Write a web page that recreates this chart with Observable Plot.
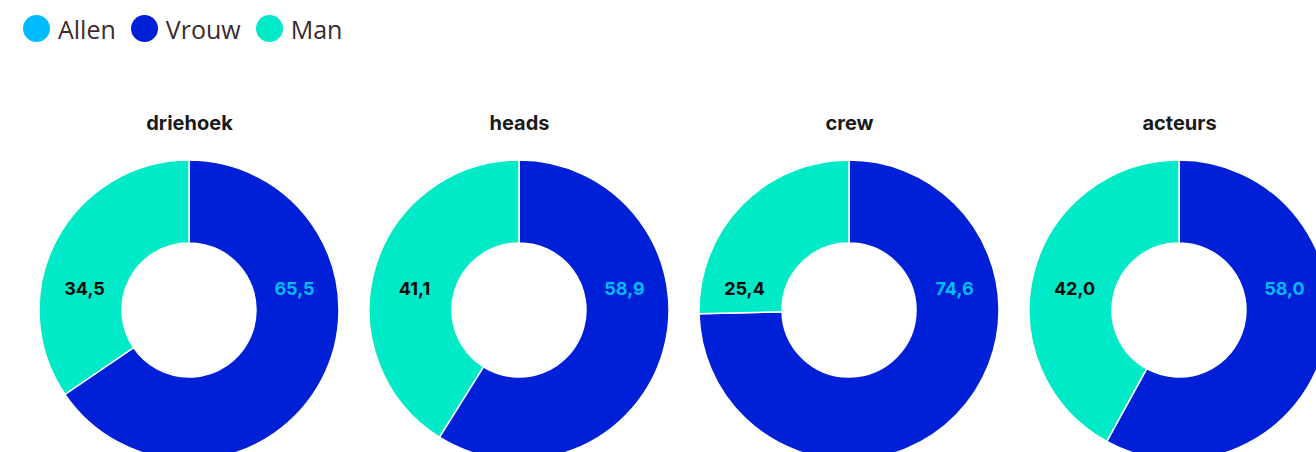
<!DOCTYPE html>
<html>
<head>
<meta charset="utf-8">
<script src="https://cdn.jsdelivr.net/npm/d3@7"></script>
<script src="https://cdn.jsdelivr.net/npm/@observablehq/plot@0.6"></script>
<style>
  html, body { margin: 0; padding: 0; background: #fff; overflow: hidden; }
  #legend { height: 57px; display: flex; align-items: center; padding-left: 23px; box-sizing: border-box; font-family: "Open Sans", sans-serif; font-size: 25px; color: #3b2a30; }
  .item { display: flex; align-items: center; margin-right: 15px; }
  .sw { width: 27px; height: 27px; border-radius: 50%; margin-right: 8px; }
  #chart svg { display: block; }
</style>
</head>
<body>
<div id="legend"></div>
<div id="chart"></div>
<script>
const categories = ["driehoek", "heads", "crew", "acteurs"];
const vrouw = [65.5, 58.9, 74.6, 58.0];
const man = [34.5, 41.1, 25.4, 42.0];
const legendLabels = ["Allen", "Vrouw", "Man"];
const legendColors = ["#00bcff", "#0020d8", "#00eac8"];

const colorOf = k => legendColors[legendLabels.indexOf(k)];
const fmt = v => v.toFixed(1).replace(".", ",");

// legend
const legend = document.getElementById("legend");
legendLabels.forEach((l, i) => {
  const it = document.createElement("div");
  it.className = "item";
  const sw = document.createElement("span");
  sw.className = "sw";
  sw.style.background = legendColors[i];
  const t = document.createElement("span");
  t.textContent = l;
  it.appendChild(sw);
  it.appendChild(t);
  legend.appendChild(it);
});

const CY = 253, R_OUT = 150, R_IN = 67;

function donuts(index, scales, values, dimensions, context) {
  const g = d3.create("svg:g");
  const arc = d3.arc().innerRadius(R_IN).outerRadius(R_OUT);
  const pie = d3.pie().sort(null).value(d => d.v);
  categories.forEach((c, i) => {
    const arcs = pie([{k: "Vrouw", v: vrouw[i]}, {k: "Man", v: man[i]}]);
    g.append("g")
      .attr("transform", `translate(${scales.x(c)},${CY})`)
      .selectAll("path")
      .data(arcs)
      .join("path")
      .attr("d", arc)
      .attr("fill", d => colorOf(d.data.k))
      .attr("stroke", "#fff")
      .attr("stroke-width", 1.5);
  });
  return g.node();
}

const chart = Plot.plot({
  width: 1316,
  height: 395,
  marginLeft: 188,
  marginRight: 136,
  marginTop: 0,
  marginBottom: 0,
  x: {type: "point", domain: categories, padding: 0, axis: null},
  style: {fontFamily: "Inter, sans-serif", background: "#fff"},
  marks: [
    donuts,
    Plot.text(categories, {x: d => d, text: d => d, frameAnchor: "top", lineAnchor: "middle", dy: 66, fontSize: 20, fontWeight: "bold", fill: "#1a1a1a"}),
    Plot.text(categories, {x: d => d, text: (d, i) => fmt(man[i]), frameAnchor: "top", lineAnchor: "middle", dy: 232, dx: -105, fontSize: 18, fontWeight: "bold", fill: "#0a0a0a"}),
    Plot.text(categories, {x: d => d, text: (d, i) => fmt(vrouw[i]), frameAnchor: "top", lineAnchor: "middle", dy: 232, dx: 105, fontSize: 18, fontWeight: "bold", fill: legendColors[0]})
  ]
});
document.getElementById("chart").appendChild(chart);
</script>
</body>
</html>
